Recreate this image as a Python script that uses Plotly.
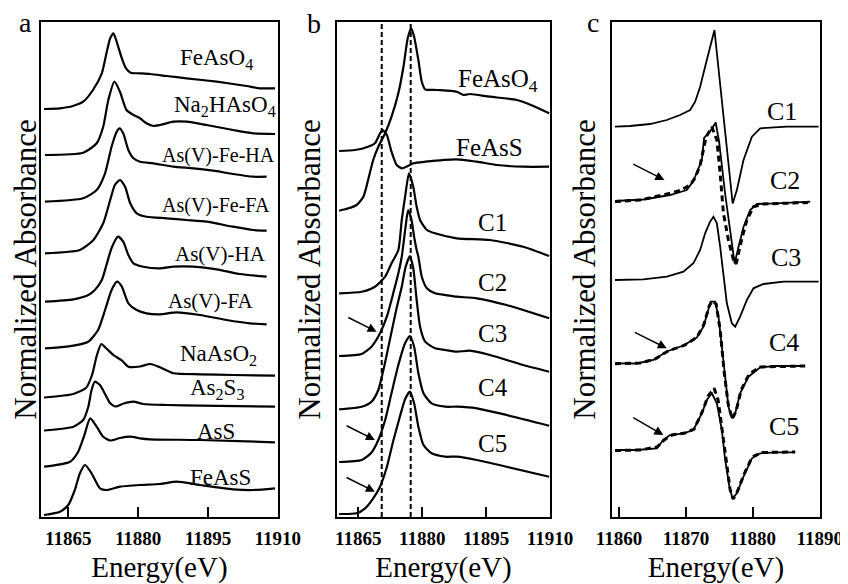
import plotly.graph_objects as go

# ---------------- Panel a : reference spectra ----------------
a_feaso4_e = [11859.8, 11863.2, 11866.0, 11868.2, 11870.3, 11872.2, 11873.2, 11874.0, 11874.7, 11875.5, 11876.5, 11877.4, 11878.4, 11880.4, 11882.6, 11886.1, 11890.4, 11896.9, 11903.3, 11906.2, 11909.4]
a_feaso4_y = [408, 408.7, 411, 415.3, 427, 443.7, 463.7, 478.7, 483.7, 473.7, 458.7, 448.7, 444.3, 443.7, 443, 441, 438.7, 435.3, 431, 428.7, 428.7]

a_na2haso4_e = [11860.0, 11868.2, 11871.1, 11872.5, 11873.6, 11874.9, 11876.1, 11877.5, 11879.0, 11880.4, 11881.8, 11883.3, 11884.7, 11887.6, 11890.4, 11894.7, 11900.4, 11904.7, 11909.4]
a_na2haso4_y = [362, 364.3, 373.7, 390.3, 417, 435.3, 425.3, 407, 402, 398.7, 393.7, 391, 392, 395.3, 395.3, 392, 387, 383.7, 383]

a_fe_ha_e = [11860.0, 11868.2, 11871.1, 11872.9, 11874.3, 11875.4, 11876.0, 11876.8, 11877.9, 11879.0, 11880.4, 11883.3, 11887.6, 11891.9, 11896.1, 11900.4, 11904.7, 11907.6]
a_fe_ha_y = [315.3, 318.7, 327, 343.7, 370.3, 385.3, 388.7, 383.7, 367, 358.7, 355.3, 353.7, 350.3, 348.7, 346.3, 343, 340.3, 340.3]

a_fe_fa_e = [11860.0, 11867.5, 11870.4, 11872.5, 11874.0, 11875.0, 11876.1, 11877.2, 11878.3, 11879.7, 11881.8, 11886.1, 11890.4, 11894.7, 11900.4, 11904.7, 11907.6]
a_fe_fa_y = [263.7, 267, 277, 293.7, 317, 332, 337, 330.3, 313.7, 303.7, 300.3, 298.7, 297, 295.3, 290.3, 287, 286.3]

a_ha_e = [11860.0, 11866.1, 11869.3, 11870.7, 11872.2, 11873.2, 11874.3, 11875.7, 11876.8, 11877.9, 11879.0, 11881.1, 11884.7, 11887.6, 11891.9, 11896.9, 11901.9, 11907.6]
a_ha_y = [215.3, 217.7, 222, 227, 237, 252, 269, 280.3, 275.3, 262, 253.7, 250.3, 248.7, 250.3, 250.3, 247.7, 243, 240.3]

a_fa_e = [11860.0, 11864.7, 11869.3, 11871.4, 11872.9, 11874.3, 11875.5, 11876.5, 11877.9, 11879.7, 11881.8, 11884.7, 11888.3, 11893.3, 11899.0, 11904.0, 11907.6]
a_fa_y = [168.7, 170.3, 175.3, 187, 207, 227, 235.3, 230.3, 213.7, 207, 203.7, 202.7, 204.7, 202, 197, 193.7, 192.7]

a_naaso2_e = [11859.8, 11866.1, 11868.8, 11870.1, 11871.1, 11872.1, 11873.2, 11874.7, 11876.5, 11877.9, 11880.4, 11882.6, 11884.7, 11887.6, 11893.3, 11900.4, 11909.4]
a_naaso2_y = [119.5, 123, 129, 142, 161, 173, 168.5, 162, 156.5, 150.3, 150.5, 153, 149.7, 143.7, 142.7, 142, 141.3]

a_as2s3_e = [11859.8, 11866.1, 11868.2, 11869.3, 11870.0, 11870.7, 11871.8, 11873.2, 11874.0, 11875.2, 11876.9, 11879.0, 11881.1, 11886.1, 11893.3, 11909.4]
a_as2s3_y = [86.5, 90.3, 97, 110.3, 127, 135.3, 132, 120.3, 113.7, 110.5, 113.5, 115.3, 113, 112, 111.3, 110.3]

a_ass_e = [11859.8, 11865.4, 11867.1, 11868.4, 11869.7, 11871.1, 11872.5, 11874.0, 11876.1, 11878.3, 11880.4, 11882.6, 11893.3, 11909.4]
a_ass_y = [50.3, 55.3, 65, 81, 98.7, 90.3, 80.3, 76.5, 79, 80.3, 78.7, 77.7, 77, 74.7]

a_feass_e = [11859.8, 11863.2, 11865.0, 11866.4, 11867.5, 11868.6, 11870.0, 11871.8, 11873.2, 11876.1, 11880.4, 11884.7, 11888.3, 11893.3, 11900.4, 11904.7, 11909.4]
a_feass_y = [2, 5.3, 12, 27, 43.7, 52, 43.7, 28.7, 27, 30.3, 32, 33, 35.3, 32, 27.7, 27, 28.7]

# ---------------- Panel b : samples vs references ----------------
b_feaso4_e = [11860.5, 11862.7, 11864.6, 11866.2, 11867.3, 11868.5, 11869.7, 11871.3, 11872.8, 11874.4, 11875.6, 11876.6, 11877.4, 11878.1, 11879.1, 11879.9, 11880.7, 11883.4, 11888.1, 11889.7, 11891.2, 11895.9, 11902.2, 11906.1, 11909.8]
b_feaso4_y = [306.3, 308.7, 312, 320.3, 337, 357, 370.3, 383.7, 400.3, 423.7, 450.3, 478.7, 488.7, 480.3, 457, 435.3, 427.7, 427, 425.3, 422, 423, 420.3, 417, 411, 403.7]

b_feass_e = [11860.5, 11864.2, 11867.3, 11868.9, 11870.1, 11870.7, 11871.7, 11872.8, 11874.0, 11875.2, 11876.3, 11877.9, 11880.7, 11888.1, 11892.8, 11897.5, 11903.7, 11909.8]
b_feass_y = [366, 367, 370.3, 373.7, 383.7, 387, 382, 365.3, 352, 348.7, 350.3, 353.7, 355.3, 357.7, 355.3, 352, 350.3, 350.3]

b_c1_e = [11860.5, 11865.8, 11868.9, 11871.3, 11872.8, 11874.4, 11875.2, 11876.1, 11876.9, 11877.9, 11878.7, 11879.5, 11881.1, 11883.0, 11888.1, 11895.9, 11903.7, 11909.8]
b_c1_y = [223.7, 225.3, 230.3, 240.3, 253.7, 267, 297, 323.7, 343.7, 330.3, 310.3, 297, 287, 283.7, 278.7, 277, 270.3, 261]

b_c2_e = [11860.5, 11865.8, 11868.1, 11870.1, 11871.7, 11873.2, 11874.4, 11875.2, 11876.1, 11876.7, 11877.5, 11878.1, 11878.7, 11879.1, 11879.9, 11881.1, 11883.0, 11885.4, 11888.1, 11892.8, 11899.8, 11909.8]
b_c2_y = [161, 163, 170.3, 183.7, 200.3, 223.7, 243.7, 260.3, 290.3, 307, 297, 280.3, 267, 260.3, 240.3, 228.7, 223.7, 222, 220.3, 218.7, 212, 198.7]

b_c3_e = [11860.5, 11865.8, 11868.1, 11869.7, 11871.0, 11872.4, 11874.0, 11875.2, 11876.1, 11877.1, 11877.9, 11878.7, 11879.5, 11880.7, 11883.0, 11885.4, 11888.1, 11891.2, 11895.9, 11903.7, 11909.8]
b_c3_y = [107.7, 110.3, 115.3, 127, 149, 177, 209, 230.3, 250, 261, 249, 217, 190.3, 175.3, 168.7, 167, 165.3, 166.3, 162, 152, 145.3]

b_c4_e = [11860.5, 11865.8, 11868.1, 11869.7, 11871.3, 11872.8, 11874.4, 11876.0, 11877.1, 11878.1, 11879.1, 11880.3, 11882.2, 11885.4, 11888.1, 11892.8, 11899.8, 11909.8]
b_c4_y = [55, 57, 64.5, 77, 97, 124, 152, 174, 181, 170.3, 143.7, 123.7, 113.7, 110.3, 110.3, 108.7, 102, 91.3]

b_c5_e = [11860.5, 11864.6, 11866.6, 11868.5, 11870.1, 11871.7, 11873.2, 11874.8, 11876.0, 11877.1, 11878.1, 11879.1, 11880.3, 11882.2, 11885.4, 11888.1, 11892.8, 11899.8, 11909.8]
b_c5_y = [3, 3.7, 8.7, 18.7, 30.3, 50, 76, 101, 118, 125.3, 113.7, 90.3, 72, 63.7, 60.3, 60.3, 57, 50.3, 40.3]

b_edge_lines = [11870.5, 11877.3]

# ---------------- Panel c : first-derivative spectra and fits ----------------
c_c1_e = [11859.40, 11861.65, 11864.64, 11867.14, 11869.13, 11870.63, 11871.38, 11872.13, 11872.87, 11873.62, 11874.27, 11876.99, 11877.62, 11878.61, 11879.87, 11881.11, 11885.10, 11889.84]
c_c1_y = [390.3, 391, 393, 397, 402, 407, 415.3, 430.3, 450.3, 470.3, 487, 313.5, 327, 357, 380.3, 388.7, 390.3, 390.3]

c_c2_e = [11859.40, 11863.64, 11867.63, 11870.13, 11871.12, 11871.83, 11872.38, 11872.72, 11873.62, 11874.45, 11874.97, 11875.87, 11876.87, 11877.29, 11877.86, 11878.61, 11879.61, 11880.61, 11883.61, 11886.60, 11888.59]
c_c2_y = [316, 317.5, 322, 327, 336, 347, 357, 379, 385.5, 394.5, 375, 323, 270.3, 253.5, 270, 290, 307, 313, 313.7, 314.3, 315.3]
c_c2_fit_e = [11859.40, 11863.14, 11866.59, 11869.13, 11870.63, 11871.38, 11872.13, 11872.57, 11873.02, 11873.88, 11874.63, 11875.12, 11875.61, 11876.36, 11877.11, 11877.51, 11878.37, 11879.12, 11880.10, 11881.60, 11885.60, 11888.29]
c_c2_fit_y = [315.5, 317, 322, 326.5, 332, 339, 352, 367, 380, 390, 377, 343.7, 303.7, 277, 257, 253, 278.7, 297, 310.3, 313, 313.7, 314.5]

c_c3_e = [11859.40, 11863.64, 11867.14, 11869.63, 11871.12, 11872.13, 11872.87, 11873.62, 11874.12, 11874.63, 11875.12, 11875.61, 11876.12, 11876.87, 11877.37, 11878.11, 11879.12, 11880.10, 11881.60, 11884.60, 11889.84]
c_c3_y = [237, 237.7, 240.3, 245.3, 253.7, 267, 283.7, 295.3, 300.3, 293.7, 270.3, 240.3, 213.7, 193.7, 190.3, 200.3, 217, 228.7, 233, 235.3, 235.3]

c_c4_e = [11859.40, 11862.65, 11865.13, 11867.14, 11869.63, 11871.63, 11872.62, 11873.37, 11873.70, 11874.37, 11874.87, 11875.37, 11875.87, 11876.36, 11876.87, 11877.37, 11878.11, 11879.36, 11881.11, 11883.61, 11887.59]
c_c4_y = [153.7, 153.5, 157, 165.5, 171.5, 179.5, 190.3, 207, 215.3, 215.3, 200.3, 170.3, 137, 110.3, 98.7, 103.7, 123.7, 140.3, 149.7, 151, 151]
c_c4_fit_e = [11859.40, 11863.14, 11865.39, 11867.34, 11869.88, 11871.68, 11872.72, 11873.47, 11873.92, 11874.52, 11875.12, 11875.72, 11876.32, 11876.92, 11877.51, 11878.26, 11879.46, 11881.11, 11884.10, 11887.84]
c_c4_fit_y = [153.2, 154, 158, 166, 172, 180, 193, 211, 216, 213, 187, 145, 113, 98, 106, 127, 143, 150, 150.5, 151]

c_c5_e = [11859.40, 11862.65, 11865.64, 11866.63, 11867.63, 11869.63, 11871.12, 11872.38, 11873.13, 11873.88, 11874.63, 11875.37, 11875.87, 11876.51, 11876.96, 11877.62, 11878.61, 11879.87, 11881.11, 11883.61, 11886.09]
c_c5_y = [67, 67, 68.7, 77, 82, 83.7, 87, 103.7, 117, 123.7, 113.7, 87, 57, 30.3, 18.7, 23.7, 40.3, 58.7, 63.7, 64.7, 64.7]
c_c5_fit_e = [11859.40, 11863.14, 11865.69, 11866.74, 11867.93, 11869.88, 11871.23, 11872.43, 11873.32, 11874.22, 11874.82, 11875.42, 11876.02, 11876.62, 11877.07, 11877.66, 11878.71, 11879.91, 11881.41, 11884.10, 11886.35]
c_c5_fit_y = [66.5, 67, 70, 77, 82, 84, 88, 105, 121, 128.7, 117, 87, 52, 27, 18, 25, 43, 60, 64.5, 65, 65]

# ---------------- Tick labels ----------------
ticks_ab = [11865, 11880, 11895, 11910]
ticks_c = [11860, 11870, 11880, 11890]

# ---------------- Labels ----------------
a_labels = ["FeAsO<sub>4</sub>", "Na<sub>2</sub>HAsO<sub>4</sub>", "As(V)-Fe-HA", "As(V)-Fe-FA", "As(V)-HA",
            "As(V)-FA", "NaAsO<sub>2</sub>", "As<sub>2</sub>S<sub>3</sub>", "AsS", "FeAsS"]
a_label_e = [11896.9, 11898.7, 11897.2, 11896.7, 11897.6, 11895.7, 11897.2, 11896.9, 11896.7, 11897.8]
a_label_y = [458, 411, 362, 312, 263, 216, 162, 128, 86, 40]
a_label_size = [23, 23, 20, 20, 21, 21, 23, 23, 23, 23]

b_labels = ["FeAsO<sub>4</sub>", "FeAsS", "C1", "C2", "C3", "C4", "C5"]
b_label_e = [11897.8, 11895.9, 11896.4, 11896.5, 11896.6, 11896.6, 11896.4]
b_label_y = [437, 370, 295, 235, 184, 130, 74]

c_labels = ["C1", "C2", "C3", "C4", "C5"]
c_label_e = [11884.4, 11884.85, 11885.0, 11884.7, 11884.7]
c_label_y = [406, 337, 260, 175, 91]

# arrows (tail -> head)
b_arrow_tail_e = [11862.3, 11861.9, 11861.9]
b_arrow_tail_y = [200.3, 92, 40.3]
b_arrow_head_e = [11869.3, 11868.9, 11868.9]
b_arrow_head_y = [185.3, 77, 25.3]
c_arrow_tail_e = [11861.9, 11862.14, 11861.9]
c_arrow_tail_y = [353.7, 185.3, 100.3]
c_arrow_head_e = [11866.78, 11867.14, 11866.63]
c_arrow_head_y = [337, 168.7, 82]

SERIF = "Liberation Serif"
BLACK = "#000000"

# The page body has an 8 px margin, so the figure is 840x576 and sits at (8, 8).
W, H = 840, 576

fig = go.Figure()

def add_line(e, y, xa, ya, name, dash="solid", width=2.2, shape="spline"):
    kw = dict(shape=shape)
    if shape == "spline":
        kw["smoothing"] = 0.6
    fig.add_trace(go.Scatter(x=e, y=y, mode="lines", name=name, xaxis=xa, yaxis=ya,
                             line=dict(color=BLACK, width=width, dash=dash, **kw),
                             showlegend=False, hoverinfo="skip"))

panel_a = [(a_feaso4_e, a_feaso4_y, "FeAsO4"), (a_na2haso4_e, a_na2haso4_y, "Na2HAsO4"),
           (a_fe_ha_e, a_fe_ha_y, "As(V)-Fe-HA"), (a_fe_fa_e, a_fe_fa_y, "As(V)-Fe-FA"),
           (a_ha_e, a_ha_y, "As(V)-HA"), (a_fa_e, a_fa_y, "As(V)-FA"),
           (a_naaso2_e, a_naaso2_y, "NaAsO2"), (a_as2s3_e, a_as2s3_y, "As2S3"),
           (a_ass_e, a_ass_y, "AsS"), (a_feass_e, a_feass_y, "FeAsS")]
for e, y, n in panel_a:
    add_line(e, y, "x", "y", n)

panel_b = [(b_feaso4_e, b_feaso4_y, "FeAsO4"), (b_feass_e, b_feass_y, "FeAsS"),
           (b_c1_e, b_c1_y, "C1"), (b_c2_e, b_c2_y, "C2"), (b_c3_e, b_c3_y, "C3"),
           (b_c4_e, b_c4_y, "C4"), (b_c5_e, b_c5_y, "C5")]
for e, y, n in panel_b:
    add_line(e, y, "x2", "y2", n)

panel_c = [(c_c1_e, c_c1_y, "C1"), (c_c2_e, c_c2_y, "C2"), (c_c3_e, c_c3_y, "C3"),
           (c_c4_e, c_c4_y, "C4"), (c_c5_e, c_c5_y, "C5")]
for e, y, n in panel_c:
    add_line(e, y, "x3", "y3", n, width=1.8, shape="linear")
panel_c_fit = [(c_c2_fit_e, c_c2_fit_y, "C2 fit"), (c_c4_fit_e, c_c4_fit_y, "C4 fit"),
               (c_c5_fit_e, c_c5_fit_y, "C5 fit")]
for e, y, n in panel_c_fit:
    add_line(e, y, "x3", "y3", n, dash="6px,4px", width=3, shape="linear")

# dashed reference lines in panel b
for xv in b_edge_lines:
    fig.add_shape(type="line", xref="x2", yref="y2 domain", x0=xv, x1=xv, y0=0, y1=1,
                  line=dict(color=BLACK, width=2, dash="5px,3px"))

annotations = []
for t, e, y, s in zip(a_labels, a_label_e, a_label_y, a_label_size):
    annotations.append(dict(text=t, x=e, y=y, xref="x", yref="y", showarrow=False,
                            xanchor="center", yanchor="middle", font=dict(family=SERIF, size=s, color=BLACK)))
for t, e, y in zip(b_labels, b_label_e, b_label_y):
    annotations.append(dict(text=t, x=e, y=y, xref="x2", yref="y2", showarrow=False,
                            xanchor="center", yanchor="middle", font=dict(family=SERIF, size=25, color=BLACK)))
for t, e, y in zip(c_labels, c_label_e, c_label_y):
    annotations.append(dict(text=t, x=e, y=y, xref="x3", yref="y3", showarrow=False,
                            xanchor="center", yanchor="middle", font=dict(family=SERIF, size=26, color=BLACK)))
for te, ty, he, hy in zip(b_arrow_tail_e, b_arrow_tail_y, b_arrow_head_e, b_arrow_head_y):
    annotations.append(dict(text="", x=he, y=hy, ax=te, ay=ty, xref="x2", yref="y2", axref="x2", ayref="y2",
                            showarrow=True, arrowhead=2, arrowsize=1.2, arrowwidth=1.5, arrowcolor=BLACK))
for te, ty, he, hy in zip(c_arrow_tail_e, c_arrow_tail_y, c_arrow_head_e, c_arrow_head_y):
    annotations.append(dict(text="", x=he, y=hy, ax=te, ay=ty, xref="x3", yref="y3", axref="x3", ayref="y3",
                            showarrow=True, arrowhead=2, arrowsize=1.2, arrowwidth=1.5, arrowcolor=BLACK))
for t, px, py in [("a", 0.02083, 0.97569), ("b", 0.36429, 0.97396), ("c", 0.69702, 0.97569)]:
    annotations.append(dict(text=t, x=px, y=py, xref="paper", yref="paper", showarrow=False,
                            xanchor="center", yanchor="middle", height=22, valign="middle",
                            font=dict(family=SERIF, size=28, color=BLACK)))

ydom = [0.11632, 0.97569]
xdoms = [[0.03929, 0.32119], [0.39167, 0.64524], [0.71905, 0.96667]]
xranges = [[11859.14, 11910.0], [11860.0, 11910.0], [11858.95, 11890.05]]
xticks = [ticks_ab, ticks_ab, ticks_c]

layout = dict(template="none", width=W, height=H, margin=dict(l=0, r=0, t=0, b=0, autoexpand=False),
              paper_bgcolor="white", plot_bgcolor="white", annotations=annotations,
              font=dict(family=SERIF, color=BLACK), showlegend=False)
for i in range(3):
    sx = "" if i == 0 else str(i + 1)
    layout["xaxis" + sx] = dict(domain=xdoms[i], range=xranges[i], anchor="y" + sx, automargin=False,
                                tickvals=xticks[i], ticktext=["<b>%d</b>" % v for v in xticks[i]],
                                ticks="inside", ticklen=10, tickwidth=2, tickcolor=BLACK,
                                showline=True, linewidth=2, linecolor=BLACK, mirror=True,
                                showgrid=False, zeroline=False, ticklabelstandoff=3,
                                tickfont=dict(family=SERIF, size=19, color=BLACK, weight="bold"),
                                title=dict(text="Energy(eV)", font=dict(family=SERIF, size=29, color=BLACK), standoff=10))
    layout["yaxis" + sx] = dict(domain=ydom, range=[0, 495], anchor="x" + sx, automargin=False,
                                showticklabels=False, ticks="", showline=True, linewidth=2,
                                linecolor=BLACK, mirror=True, showgrid=False, zeroline=False,
                                title=dict(text="Normalized Absorbance", font=dict(family=SERIF, size=31, color=BLACK), standoff=5))
fig.update_layout(**layout)

fig.write_html("out.html")
